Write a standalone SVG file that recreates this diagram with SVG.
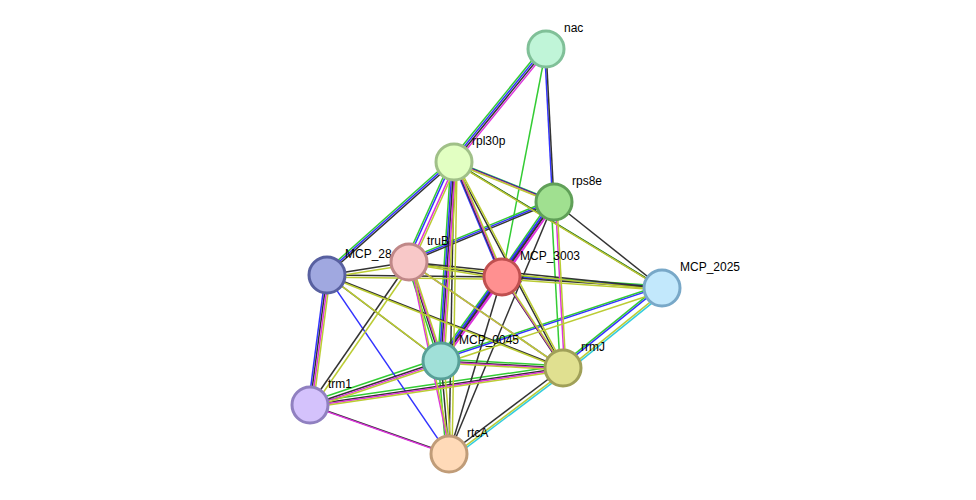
<svg xmlns="http://www.w3.org/2000/svg" xmlns:xlink="http://www.w3.org/1999/xlink" width="976" height="500" viewBox="0 0 976 500">
<style>
.e line{stroke-width:1.5;fill:none}
.g line{stroke:#33cc33}.b line{stroke:#3333ff}.k line{stroke:#333333}.m line{stroke:#dd33dd}.y line{stroke:#bbcc33}.c line{stroke:#33ccdd}
circle{stroke-width:3}
text{font-family:"Liberation Sans",Arial,sans-serif;font-size:12px;fill:#000}
</style>
<rect width="976" height="500" fill="#fff"/>
<g id="connectors" class="e">
<g class="g" transform="translate(-3,-2.2)">
<line x1="546" y1="49" x2="454" y2="162"/><line x1="454" y1="162" x2="554" y2="202"/><line x1="454" y1="162" x2="327" y2="275"/><line x1="454" y1="162" x2="409" y2="262"/><line x1="454" y1="162" x2="441" y2="361"/><line x1="454" y1="162" x2="662" y2="288"/><line x1="554" y1="202" x2="409" y2="262"/><line x1="554" y1="202" x2="502" y2="277"/><line x1="554" y1="202" x2="563" y2="368"/><line x1="409" y1="262" x2="441" y2="361"/><line x1="409" y1="262" x2="563" y2="368"/><line x1="502" y1="277" x2="662" y2="288"/><line x1="502" y1="277" x2="441" y2="361"/><line x1="662" y1="288" x2="441" y2="361"/><line x1="662" y1="288" x2="563" y2="368"/><line x1="441" y1="361" x2="563" y2="368"/><line x1="441" y1="361" x2="310" y2="405"/><line x1="441" y1="361" x2="449" y2="454"/><line x1="563" y1="368" x2="310" y2="405"/>
</g>
<line x1="546" y1="49" x2="502" y2="277" stroke="#33cc33"/>
<g class="b" transform="translate(-1.5,-1.1)">
<line x1="546" y1="49" x2="454" y2="162"/><line x1="546" y1="49" x2="554" y2="202"/><line x1="454" y1="162" x2="554" y2="202"/><line x1="454" y1="162" x2="327" y2="275"/><line x1="454" y1="162" x2="409" y2="262"/><line x1="454" y1="162" x2="502" y2="277"/><line x1="454" y1="162" x2="441" y2="361"/><line x1="554" y1="202" x2="409" y2="262"/><line x1="554" y1="202" x2="502" y2="277"/><line x1="554" y1="202" x2="441" y2="361"/><line x1="327" y1="275" x2="310" y2="405"/><line x1="327" y1="275" x2="449" y2="454"/><line x1="502" y1="277" x2="662" y2="288"/><line x1="502" y1="277" x2="441" y2="361"/><line x1="662" y1="288" x2="441" y2="361"/><line x1="662" y1="288" x2="563" y2="368"/>
</g>
<g class="k">
<line x1="546" y1="49" x2="454" y2="162"/><line x1="546" y1="49" x2="554" y2="202"/><line x1="454" y1="162" x2="554" y2="202"/><line x1="454" y1="162" x2="327" y2="275"/><line x1="454" y1="162" x2="502" y2="277"/><line x1="454" y1="162" x2="441" y2="361"/><line x1="454" y1="162" x2="449" y2="454"/><line x1="454" y1="162" x2="563" y2="368"/><line x1="454" y1="162" x2="662" y2="288"/><line x1="554" y1="202" x2="409" y2="262"/><line x1="554" y1="202" x2="502" y2="277"/><line x1="554" y1="202" x2="662" y2="288"/><line x1="554" y1="202" x2="441" y2="361"/><line x1="554" y1="202" x2="449" y2="454"/><line x1="327" y1="275" x2="409" y2="262"/><line x1="327" y1="275" x2="502" y2="277"/><line x1="327" y1="275" x2="441" y2="361"/><line x1="327" y1="275" x2="563" y2="368"/><line x1="327" y1="275" x2="310" y2="405"/><line x1="409" y1="262" x2="502" y2="277"/><line x1="409" y1="262" x2="662" y2="288"/><line x1="409" y1="262" x2="441" y2="361"/><line x1="409" y1="262" x2="310" y2="405"/><line x1="502" y1="277" x2="662" y2="288"/><line x1="502" y1="277" x2="441" y2="361"/><line x1="502" y1="277" x2="563" y2="368"/><line x1="502" y1="277" x2="449" y2="454"/><line x1="441" y1="361" x2="563" y2="368"/><line x1="441" y1="361" x2="310" y2="405"/><line x1="441" y1="361" x2="449" y2="454"/><line x1="563" y1="368" x2="310" y2="405"/><line x1="563" y1="368" x2="449" y2="454"/><line x1="310" y1="405" x2="449" y2="454"/>
</g>
<g class="m" transform="translate(1.5,1.1)">
<line x1="546" y1="49" x2="454" y2="162"/><line x1="454" y1="162" x2="554" y2="202"/><line x1="454" y1="162" x2="409" y2="262"/><line x1="454" y1="162" x2="502" y2="277"/><line x1="454" y1="162" x2="441" y2="361"/><line x1="554" y1="202" x2="502" y2="277"/><line x1="554" y1="202" x2="563" y2="368"/><line x1="554" y1="202" x2="441" y2="361"/><line x1="327" y1="275" x2="310" y2="405"/><line x1="409" y1="262" x2="441" y2="361"/><line x1="409" y1="262" x2="563" y2="368"/><line x1="409" y1="262" x2="449" y2="454"/><line x1="502" y1="277" x2="441" y2="361"/><line x1="502" y1="277" x2="563" y2="368"/><line x1="441" y1="361" x2="563" y2="368"/><line x1="441" y1="361" x2="310" y2="405"/><line x1="563" y1="368" x2="310" y2="405"/><line x1="310" y1="405" x2="449" y2="454"/>
</g>
<g class="y" transform="translate(3,2.2)">
<line x1="454" y1="162" x2="554" y2="202"/><line x1="454" y1="162" x2="409" y2="262"/><line x1="454" y1="162" x2="502" y2="277"/><line x1="454" y1="162" x2="441" y2="361"/><line x1="454" y1="162" x2="449" y2="454"/><line x1="454" y1="162" x2="563" y2="368"/><line x1="454" y1="162" x2="662" y2="288"/><line x1="554" y1="202" x2="563" y2="368"/><line x1="327" y1="275" x2="409" y2="262"/><line x1="327" y1="275" x2="502" y2="277"/><line x1="327" y1="275" x2="441" y2="361"/><line x1="327" y1="275" x2="563" y2="368"/><line x1="327" y1="275" x2="310" y2="405"/><line x1="409" y1="262" x2="502" y2="277"/><line x1="409" y1="262" x2="662" y2="288"/><line x1="409" y1="262" x2="441" y2="361"/><line x1="409" y1="262" x2="563" y2="368"/><line x1="409" y1="262" x2="310" y2="405"/><line x1="409" y1="262" x2="449" y2="454"/><line x1="502" y1="277" x2="662" y2="288"/><line x1="502" y1="277" x2="563" y2="368"/><line x1="662" y1="288" x2="441" y2="361"/><line x1="662" y1="288" x2="563" y2="368"/><line x1="441" y1="361" x2="563" y2="368"/><line x1="441" y1="361" x2="310" y2="405"/><line x1="441" y1="361" x2="449" y2="454"/><line x1="563" y1="368" x2="310" y2="405"/><line x1="563" y1="368" x2="449" y2="454"/>
</g>
<g class="c" transform="translate(4.5,3.3)">
<line x1="662" y1="288" x2="563" y2="368"/><line x1="563" y1="368" x2="449" y2="454"/>
</g>
</g>
<g id="n-nac"><circle cx="546" cy="49" r="18" fill="#c0f5d8" stroke="#80c098"/><text x="564" y="32">nac</text></g>
<g id="n-rpl30p"><circle cx="454" cy="162" r="18" fill="#e2ffc2" stroke="#a0c088"/><text x="472" y="145">rpl30p</text></g>
<g id="n-rps8e"><circle cx="554" cy="202" r="18" fill="#a0e090" stroke="#60a058"/><text x="572" y="185">rps8e</text></g>
<g id="n-mcp28"><circle cx="327" cy="275" r="18" fill="#a0a8e0" stroke="#5860a0"/><text x="345" y="258">MCP_28</text></g>
<g id="n-truB"><circle cx="409" cy="262" r="18" fill="#f8c8c8" stroke="#c08888"/><text x="427" y="245">truB</text></g>
<g id="n-mcp3003"><circle cx="502" cy="277" r="18" fill="#ff9090" stroke="#c05050"/><text x="520" y="260">MCP_3003</text></g>
<g id="n-mcp2025"><circle cx="662" cy="288" r="18" fill="#c2e8fc" stroke="#78a8c8"/><text x="680" y="271">MCP_2025</text></g>
<g id="n-mcp0045"><circle cx="441" cy="361" r="18" fill="#a0e0d8" stroke="#58a098"/><text x="459" y="344">MCP_0045</text></g>
<g id="n-rrmJ"><circle cx="563" cy="368" r="18" fill="#e0e090" stroke="#a0a058"/><text x="581" y="351">rrmJ</text></g>
<g id="n-trm1"><circle cx="310" cy="405" r="18" fill="#d4c2fc" stroke="#9080c0"/><text x="328" y="388">trm1</text></g>
<g id="n-rtcA"><circle cx="449" cy="454" r="18" fill="#ffdab8" stroke="#c09c78"/><text x="467" y="437">rtcA</text></g>
</svg>
